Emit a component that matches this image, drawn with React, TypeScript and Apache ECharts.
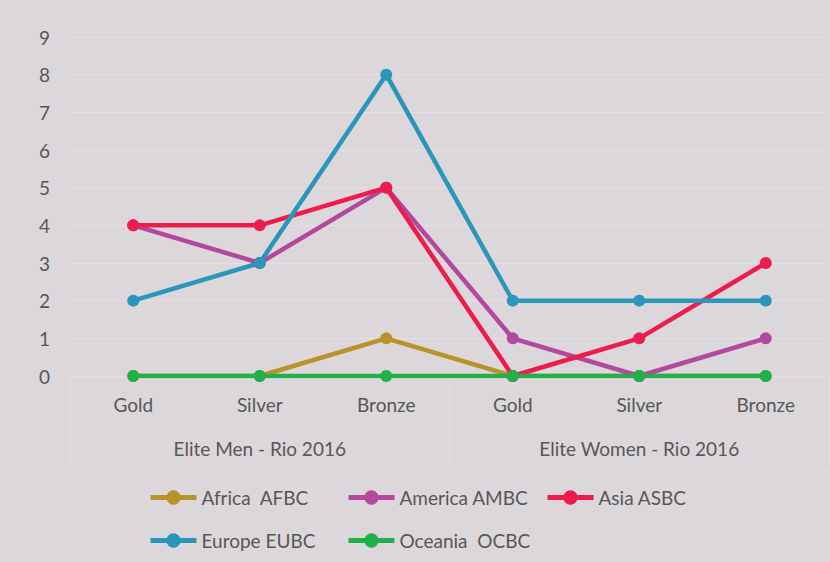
import React, { useEffect, useRef } from "react";
import * as echarts from "echarts";

const categories = ["Gold", "Silver", "Bronze", "Gold", "Silver", "Bronze"];
const groups = ["Elite Men - Rio 2016", "Elite Women - Rio 2016"];
const africa = [0, 0, 1, 0, 0, 0];
const america = [4, 3, 5, 1, 0, 1];
const asia = [4, 4, 5, 0, 1, 3];
const europe = [2, 3, 8, 2, 2, 2];
const oceania = [0, 0, 0, 0, 0, 0];

const seriesDefs = [
  { name: "Africa  AFBC", data: africa, color: "#b8922b" },
  { name: "America AMBC", data: america, color: "#b3489f" },
  { name: "Asia ASBC", data: asia, color: "#ed1c4d" },
  { name: "Europe EUBC", data: europe, color: "#2a97ba" },
  { name: "Oceania  OCBC", data: oceania, color: "#21b14b" },
];

const legendPos = [
  { left: 148, top: 488 },
  { left: 346, top: 488 },
  { left: 545, top: 488 },
  { left: 148, top: 531 },
  { left: 346, top: 531 },
];

const FONT = "Lato, 'Open Sans', sans-serif";
const TXT = "#575757";

export default function App() {
  const ref = useRef<HTMLDivElement>(null);
  useEffect(() => {
    document.body.style.margin = "0";
    const chart = echarts.init(ref.current!, null, { renderer: "svg" });
    chart.setOption({
      animation: false,
      backgroundColor: "#dcd7da",
      textStyle: { fontFamily: FONT },
      grid: { left: 70, right: 1, top: 37, bottom: 186 },
      legend: seriesDefs.map((s, i) => ({
        data: [{ name: s.name, lineStyle: { width: 5, color: s.color } }],
        left: legendPos[i].left,
        top: legendPos[i].top,
        padding: 0,
        itemWidth: 46,
        itemHeight: 18,
        lineStyle: { width: 5 },
        textStyle: { color: TXT, fontSize: 19, fontFamily: FONT },
        selectedMode: false,
      })),
      xAxis: [
        {
          type: "category",
          data: categories,
          boundaryGap: true,
          axisLine: { show: true, lineStyle: { color: "#e2dee1", width: 1 } },
          axisTick: { show: false },
          axisLabel: { color: TXT, fontSize: 19, margin: 19, fontFamily: FONT },
        },
        {
          type: "category",
          data: groups,
          position: "bottom",
          boundaryGap: true,
          axisLine: { show: false },
          axisTick: { show: true, length: 90, lineStyle: { color: "#e2dee1" } },
          axisLabel: { color: TXT, fontSize: 19, margin: 63, fontFamily: FONT },
        },
      ],
      yAxis: {
        type: "value",
        min: 0,
        max: 9,
        interval: 1,
        axisLine: { show: false },
        axisTick: { show: false },
        axisLabel: { color: TXT, fontSize: 19, margin: 20, fontFamily: FONT },
        splitLine: { lineStyle: { color: "#e3dfe2", width: 1 } },
      },
      series: seriesDefs.map((s) => ({
        name: s.name,
        type: "line",
        data: s.data,
        xAxisIndex: 0,
        symbol: "circle",
        symbolSize: 12,
        color: s.color,
        lineStyle: { width: 4.5, color: s.color },
        itemStyle: { color: s.color },
      })),
    });
    return () => chart.dispose();
  }, []);
  return (
    <div
      ref={ref}
      style={{ position: "absolute", left: 0, top: 0, width: 830, height: 562 }}
    />
  );
}
